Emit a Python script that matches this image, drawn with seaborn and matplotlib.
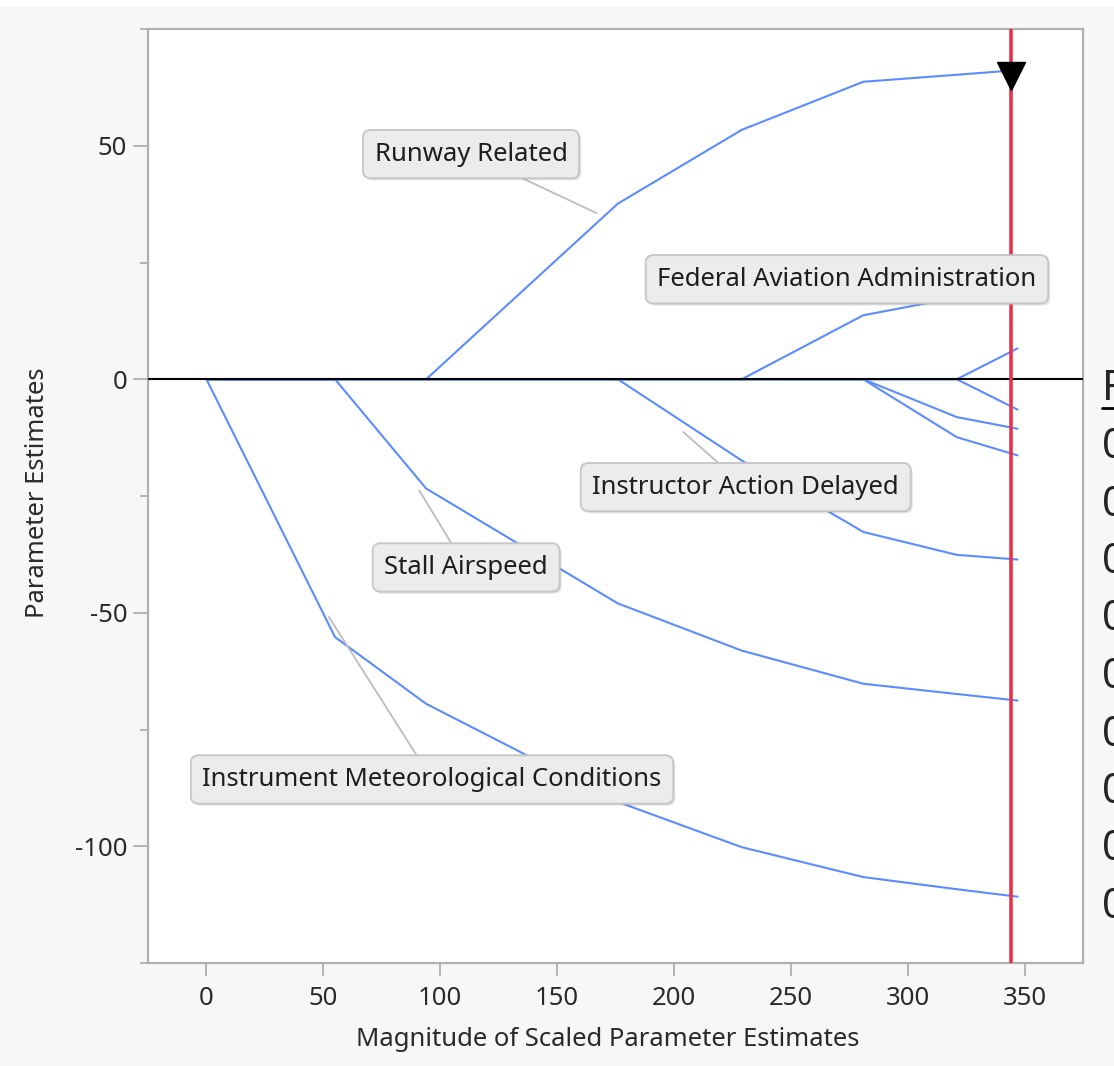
import pandas as pd
import seaborn as sns
import matplotlib.pyplot as plt
from matplotlib.lines import Line2D
from matplotlib.patches import Rectangle
from matplotlib import patheffects as pe
from matplotlib.ticker import MultipleLocator

# steps of the solution path (magnitude of scaled parameter estimates)
magnitude = [0, 55, 94, 176, 229, 281, 321, 347]

# parameter estimates of each term at those steps
runway_related = [0, 0, 0, 37.6, 53.4, 63.7, 65.2, 66.2]
federal_aviation = [0, 0, 0, 0, 0, 13.7, 17.5, 19.5]
instructor_delayed = [0, 0, 0, 0, -17.4, -32.7, -37.6, -38.6]
stall_airspeed = [0, 0, -23.4, -48.0, -58.1, -65.2, -67.4, -68.8]
instrument_meteo = [0, -55.2, -69.5, -90.5, -100.2, -106.6, -109.2, -110.8]
other_1 = [0, 0, 0, 0, 0, 0, 0, 6.6]
other_2 = [0, 0, 0, 0, 0, 0, 0, -6.5]
other_3 = [0, 0, 0, 0, 0, 0, -8.1, -10.6]
other_4 = [0, 0, 0, 0, 0, 0, -12.4, -16.3]

chosen_magnitude = 344

table_header = "F"
table_values = ["0", "0", "0", "0", "0", "0", "0", "0", "0"]

paths = {
    "Runway Related": runway_related,
    "Federal Aviation Administration": federal_aviation,
    "Instructor Action Delayed": instructor_delayed,
    "Stall Airspeed": stall_airspeed,
    "Instrument Meteorological Conditions": instrument_meteo,
    "other 1": other_1,
    "other 2": other_2,
    "other 3": other_3,
    "other 4": other_4,
}

rows = []
for term, vals in paths.items():
    for m, v in zip(magnitude, vals):
        rows.append((term, m, v))
df = pd.DataFrame(rows, columns=["term", "magnitude", "estimate"])

sns.set_style("white")
plt.rcParams["font.family"] = ["Noto Sans", "DejaVu Sans"]
plt.rcParams["axes.unicode_minus"] = False

FS = 18.5
W, H = 1114, 1066
fig = plt.figure(figsize=(W / 100, H / 100), dpi=100, facecolor="#f7f7f7")
fig.patches.append(Rectangle((0, 1 - 7 / H), 1, 7 / H, transform=fig.transFigure,
                             facecolor="white", edgecolor="none"))
ax = fig.add_axes([148 / W, (H - 963) / H, (1083 - 148) / W, (963 - 29) / H])
ax.set_facecolor("white")

blue = "#5b8cff"
sns.lineplot(data=df, x="magnitude", y="estimate", units="term", estimator=None,
             color=blue, lw=1.5, ax=ax, sort=False, zorder=2)

ax.axhline(0, color="black", lw=1.5, zorder=3)
ax.axvline(chosen_magnitude, color="#e8344a", lw=2.6, zorder=4)
ax.plot([chosen_magnitude], [65], marker="v", ms=20, color="black", zorder=7, clip_on=False)

# label boxes: (text, box centre, leader end)
labels = [
    ("Runway Related", (113.2, 48.2), (166.8, 35.6)),
    ("Federal Aviation Administration", (274.0, 21.4), None),
    ("Instructor Action Delayed", (230.7, -23.1), (204.0, -11.3)),
    ("Stall Airspeed", (111.1, -40.3), (91.0, -23.8)),
    ("Instrument Meteorological Conditions", (96.5, -85.7), (52.4, -50.9)),
]
box = dict(boxstyle="round,pad=0.45,rounding_size=0.3", fc="#ececec", ec="#c6c6c6", lw=1.2)
for text, center, tip in labels:
    if tip is None:
        t = ax.text(center[0], center[1], text, ha="center", va="center", fontsize=FS,
                    color="#1e1e1e", bbox=box, zorder=5)
    else:
        t = ax.annotate(text, xy=tip, xytext=center, ha="center", va="center", fontsize=FS,
                        color="#1e1e1e", bbox=box, zorder=5,
                        arrowprops=dict(arrowstyle="-", color="#bdbdbd", lw=1.3,
                                        shrinkA=0, shrinkB=0))
    t.get_bbox_patch().set_path_effects(
        [pe.withSimplePatchShadow(offset=(1.5, -1.5), shadow_rgbFace="gray", alpha=0.25), pe.Normal()])

ax.set_xlim(-25, 375)
ax.set_ylim(-125, 75)
ax.set_xticks(range(0, 351, 50))
ax.yaxis.set_major_locator(MultipleLocator(50))
ax.yaxis.set_minor_locator(MultipleLocator(25))

for side in ["left", "right", "top", "bottom"]:
    ax.spines[side].set_color("#b0b0b0")
    ax.spines[side].set_linewidth(1.6)

ax.tick_params(axis="both", which="both", color="#a8a8a8", width=1.2,
               labelsize=FS, labelcolor="#2a2a2a", direction="out")
ax.tick_params(axis="x", which="major", length=9.5, pad=7, bottom=True)
ax.tick_params(axis="y", which="major", length=11, pad=4, left=True)
ax.tick_params(axis="y", which="minor", length=6, left=True)

ax.set_xlabel("Magnitude of Scaled Parameter Estimates", fontsize=FS, color="#2a2a2a")
ax.set_ylabel("Parameter Estimates", fontsize=FS, color="#2a2a2a")
ax.xaxis.set_label_coords(0.492, -0.0824)
ax.xaxis.label.set_va("center")
ax.yaxis.set_label_coords(-0.1187, 0.504)
ax.yaxis.label.set_va("center")

# table cut off at the right edge, as in the original screenshot
fig.text(1102 / W, 1 - 400 / H, table_header, fontsize=30, ha="left", va="baseline")
fig.add_artist(Line2D([1102 / W, 1.0], [1 - 408 / H] * 2, transform=fig.transFigure,
                      color="black", lw=2))
for i, val in enumerate(table_values):
    fig.text(1102 / W, 1 - (458 + 57.5 * i) / H, val, fontsize=30, ha="left", va="baseline")

fig.savefig("out.png", dpi=100, facecolor=fig.get_facecolor())
